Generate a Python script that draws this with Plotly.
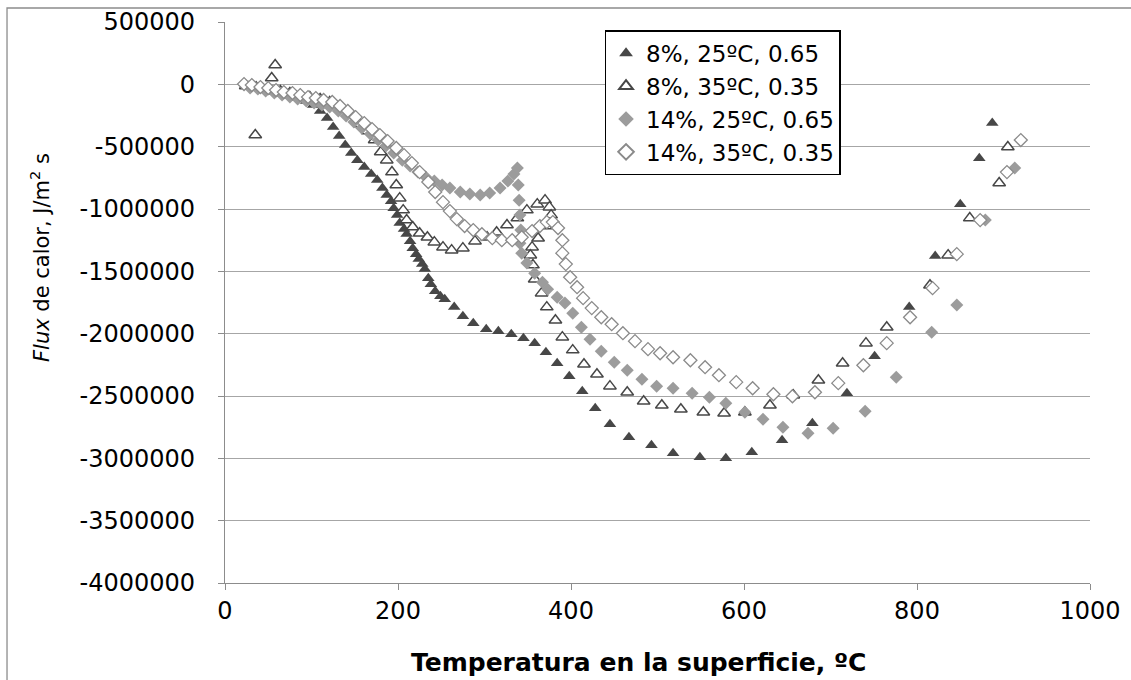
import plotly.graph_objects as go

# Heat flux vs. surface temperature for four quench conditions
s1_T = [27, 31, 36, 43, 50, 58, 66, 75, 84, 94, 102, 110, 118, 125, 132, 139, 146, 153, 161, 169,
        176, 182, 187, 192, 195, 199, 202, 207, 210, 214, 217, 221, 224, 228, 231, 235, 238, 243, 249, 254,
        265, 275, 287, 302, 316, 331, 345, 358, 371, 384, 398, 413, 428, 445, 467, 493, 518, 549, 579, 609,
        644, 679, 719, 751, 791, 821, 850, 872, 887]
s1_Q = [-14000, 2000, -14000, -30000, -46000, -62000, -78000, -94000, -110000, -134000,
        -166000, -214000, -270000, -343000, -415000, -487000, -551000, -608000, -664000, -720000,
        -768000, -832000, -888000, -937000, -993000, -1049000, -1113000, -1161000, -1201000, -1258000,
        -1314000, -1362000, -1402000, -1442000, -1482000, -1555000, -1603000, -1659000, -1699000, -1723000,
        -1787000, -1860000, -1916000, -1964000, -1980000, -2004000, -2036000, -2076000, -2149000, -2237000,
        -2341000, -2462000, -2598000, -2726000, -2831000, -2895000, -2959000, -2991000, -2999000, -2951000,
        -2855000, -2718000, -2478000, -2181000, -1787000, -1378000, -961000, -592000, -311000]

s2_T = [24, 35, 54, 58, 64, 75, 87, 98, 110, 121, 133, 145, 156, 165, 173, 180, 187, 193, 198, 202,
        206, 210, 217, 225, 234, 242, 252, 262, 275, 289, 303, 314, 326, 338, 349, 361, 370, 375, 377, 371,
        362, 355, 353, 356, 358, 366, 372, 382, 390, 402, 415, 430, 445, 465, 484, 505, 527, 553, 577, 601,
        630, 657, 686, 714, 741, 765, 815, 836, 861, 895, 905]
s2_Q = [-14000, -407000, 51000, 155000, -54000, -70000, -86000, -102000, -118000, -142000,
        -190000, -246000, -319000, -375000, -447000, -543000, -608000, -704000, -808000, -913000,
        -1009000, -1089000, -1145000, -1194000, -1226000, -1266000, -1306000, -1330000, -1314000, -1258000,
        -1226000, -1186000, -1129000, -1073000, -1009000, -961000, -929000, -985000, -1049000, -1137000,
        -1234000, -1306000, -1370000, -1450000, -1563000, -1675000, -1787000, -1892000, -2028000, -2132000,
        -2245000, -2325000, -2421000, -2470000, -2542000, -2574000, -2606000, -2630000, -2638000, -2630000,
        -2574000, -2494000, -2373000, -2237000, -2076000, -1948000, -1611000, -1370000, -1073000, -792000,
        -503000]

s3_T = [29, 38, 47, 57, 66, 75, 84, 94, 103, 112, 121, 131, 140, 149, 158, 168, 177, 186, 195, 205,
        214, 223, 232, 242, 251, 260, 272, 283, 295, 306, 318, 327, 334, 338, 339, 340, 341, 342, 341, 343,
        349, 358, 367, 373, 384, 393, 402, 412, 422, 435, 450, 465, 482, 499, 518, 540, 560, 579, 601, 622,
        645, 674, 703, 740, 776, 817, 846, 879, 913]
s3_Q = [-30000, -38000, -54000, -70000, -86000, -102000, -118000, -134000, -150000, -166000,
        -182000, -214000, -254000, -303000, -351000, -399000, -447000, -495000, -551000, -608000,
        -656000, -704000, -744000, -776000, -808000, -832000, -864000, -880000, -888000, -872000,
        -832000, -776000, -720000, -672000, -808000, -929000, -1049000, -1169000, -1274000, -1354000,
        -1434000, -1515000, -1587000, -1643000, -1707000, -1755000, -1836000, -1948000, -2044000, -2141000,
        -2229000, -2293000, -2365000, -2421000, -2438000, -2478000, -2510000, -2558000, -2630000, -2686000,
        -2750000, -2799000, -2758000, -2622000, -2349000, -1988000, -1771000, -1089000, -672000]

s4_T = [22, 31, 41, 50, 59, 68, 78, 87, 96, 105, 114, 124, 133, 142, 151, 161, 170, 179, 188, 198,
        207, 216, 225, 235, 243, 252, 260, 268, 277, 287, 297, 309, 320, 332, 343, 355, 364, 372, 379, 385,
        390, 390, 394, 399, 407, 414, 424, 435, 447, 460, 474, 489, 503, 518, 538, 555, 571, 591, 610, 634,
        656, 682, 709, 738, 765, 792, 818, 846, 873, 904, 920]
s4_Q = [2000, -6000, -22000, -30000, -46000, -62000, -70000, -86000, -102000, -110000,
        -126000, -142000, -174000, -214000, -263000, -311000, -359000, -407000, -455000, -511000,
        -568000, -632000, -704000, -784000, -864000, -945000, -1017000, -1081000, -1137000, -1169000,
        -1202000, -1234000, -1250000, -1250000, -1226000, -1177000, -1137000, -1105000, -1105000, -1153000,
        -1250000, -1354000, -1442000, -1547000, -1627000, -1715000, -1795000, -1868000, -1924000, -1996000,
        -2060000, -2124000, -2157000, -2189000, -2213000, -2269000, -2333000, -2389000, -2438000, -2486000,
        -2502000, -2470000, -2397000, -2253000, -2076000, -1868000, -1635000, -1362000, -1089000, -704000,
        -447000]

series_names = ["8%, 25ºC, 0.65", "8%, 35ºC, 0.35", "14%, 25ºC, 0.65", "14%, 35ºC, 0.35"]

y_ticks = [500000, 0, -500000, -1000000, -1500000, -2000000, -2500000, -3000000, -3500000, -4000000]
y_tick_text = ["500000", "0", "-500000", "-1000000", "-1500000", "-2000000", "-2500000",
               "-3000000", "-3500000", "-4000000"]
x_ticks = [0, 200, 400, 600, 800, 1000]

x_title = "<b>Temperatura en la superficie, ºC</b>"
y_title = "<i>Flux</i> de calor, J/m<sup>2</sup> s"

DARK = "#474747"
LIGHT = "#9c9c9c"
MID = "#8a8a8a"

fig = go.Figure()
fig.add_trace(go.Scatter(
    x=s1_T, y=s1_Q, mode="markers", name=series_names[0],
    marker=dict(symbol="triangle-up", size=11, color=DARK, line=dict(width=0))))
fig.add_trace(go.Scatter(
    x=s2_T, y=s2_Q, mode="markers", name=series_names[1],
    marker=dict(symbol="triangle-up", size=11, color="white", line=dict(width=1.5, color=DARK))))
fig.add_trace(go.Scatter(
    x=s3_T, y=s3_Q, mode="markers", name=series_names[2],
    marker=dict(symbol="diamond", size=10, color=LIGHT, line=dict(width=0))))
fig.add_trace(go.Scatter(
    x=s4_T, y=s4_Q, mode="markers", name=series_names[3],
    marker=dict(symbol="diamond", size=10, color="white", line=dict(width=1.3, color=MID))))

WIDE = "DejaVu Sans, Liberation Sans, sans-serif"

fig.update_layout(
    width=1131, height=680,
    margin=dict(l=225, r=41, t=22, b=97),
    paper_bgcolor="white", plot_bgcolor="white",
    font=dict(family=WIDE, color="black", size=22),
    showlegend=True,
    legend=dict(
        x=0.439, y=0.985, xanchor="left", yanchor="top",
        bgcolor="white", bordercolor="black", borderwidth=1.3,
        font=dict(family=WIDE, size=23, color="black"),
        itemsizing="constant", tracegroupgap=0, itemwidth=30),
    xaxis=dict(
        range=[0, 1000], tickvals=x_ticks, showgrid=False, zeroline=False,
        showline=True, linecolor="#8c8c8c", linewidth=1.3, automargin=False,
        ticks="outside", ticklen=6, tickcolor="#8c8c8c",
        tickfont=dict(family=WIDE, size=24, color="black")),
    yaxis=dict(
        range=[-4000000, 500000], tickvals=y_ticks, ticktext=y_tick_text,
        showgrid=True, gridcolor="#a6a6a6", gridwidth=1.3, zeroline=False,
        showline=True, linecolor="#8c8c8c", linewidth=1.3, automargin=False,
        ticks="outside", ticklen=6, tickcolor="#8c8c8c", ticklabelstandoff=18,
        tickfont=dict(family=WIDE, size=24, color="black")),
)

# Axis titles
fig.add_annotation(text=x_title, xref="paper", yref="paper", x=0.4786, y=-0.1414,
                   xanchor="center", yanchor="middle", showarrow=False,
                   font=dict(family=WIDE, size=25, color="black"))
fig.add_annotation(text=y_title, xref="paper", yref="paper", x=-0.2139, y=0.581,
                   xanchor="center", yanchor="middle", textangle=-90, showarrow=False,
                   font=dict(family=WIDE, size=21, color="black"))

# Chart-area frame
fig.add_shape(type="rect", xref="paper", yref="paper",
              x0=-0.252, x1=1.06, y0=-0.2, y1=1.025,
              line=dict(color="#8c8c8c", width=1.3), layer="below")

fig.write_html("out.html")
